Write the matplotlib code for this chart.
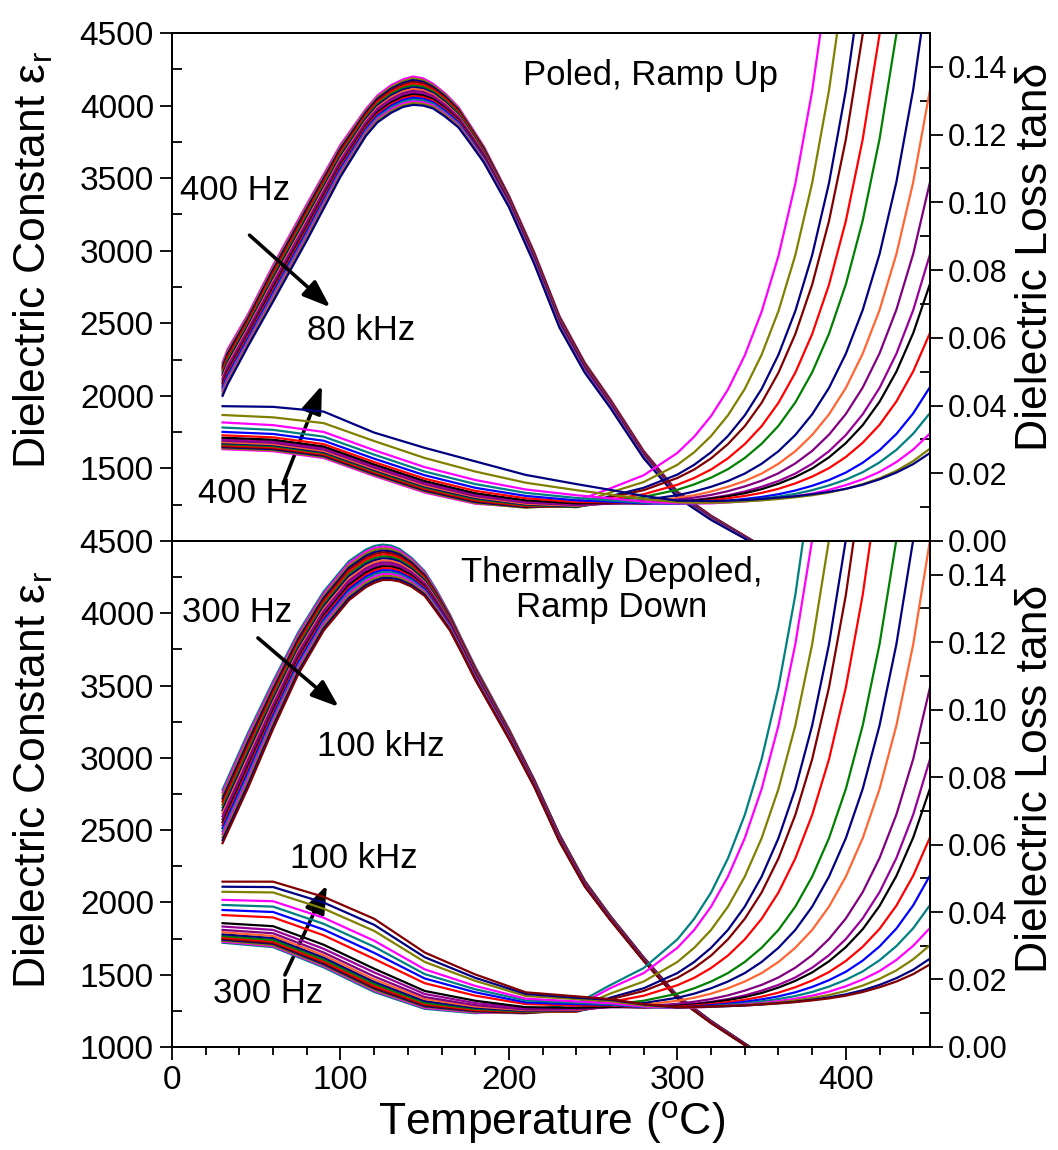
import numpy as np
import matplotlib
matplotlib.use('Agg')
import matplotlib.pyplot as plt
from matplotlib.ticker import MultipleLocator, FixedLocator, FormatStrFormatter

plt.rcParams['font.family'] = ['Liberation Sans', 'DejaVu Sans']
plt.rcParams['mathtext.fontset'] = 'custom'
plt.rcParams['mathtext.rm'] = 'Liberation Sans'
plt.rcParams['mathtext.it'] = 'Liberation Sans:italic'

# ---------------- top panel: poled, ramp up (400 Hz ... 80 kHz) ----------------
colors_up = ['#FF00FF', '#808000', '#000080', '#800000', '#FF0000', '#008000', '#000080',
             '#FF6633', '#800080', '#990099', '#000000', '#FF0000', '#0000FF', '#008080',
             '#FF00FF', '#808000', '#000080']

# dielectric constant, one row per temperature, columns = 400 Hz ... 80 kHz
temp_eps_up = [30, 33, 45, 60, 80, 100, 115, 122, 130, 137, 143, 149, 155, 162, 170, 177, 185,
               200, 215, 230, 245, 260, 280, 300, 320, 345]
eps_up_rows = [
    [2230, 2216, 2201, 2187, 2172, 2158, 2144, 2129, 2115, 2101, 2086, 2072, 2058, 2043, 2029, 2014, 2000],
    [2320, 2305, 2290, 2275, 2260, 2245, 2230, 2215, 2200, 2185, 2170, 2155, 2140, 2125, 2110, 2095, 2080],
    [2560, 2546, 2532, 2519, 2505, 2491, 2478, 2464, 2450, 2436, 2422, 2409, 2395, 2381, 2368, 2354, 2340],
    [2900, 2884, 2869, 2853, 2838, 2822, 2806, 2791, 2775, 2759, 2744, 2728, 2712, 2697, 2681, 2666, 2650],
    [3320, 3304, 3289, 3273, 3258, 3242, 3226, 3211, 3195, 3179, 3164, 3148, 3132, 3117, 3101, 3086, 3070],
    [3730, 3716, 3702, 3689, 3675, 3661, 3648, 3634, 3620, 3606, 3592, 3579, 3565, 3551, 3538, 3524, 3510],
    [3975, 3963, 3952, 3940, 3929, 3917, 3906, 3894, 3882, 3871, 3859, 3848, 3836, 3825, 3813, 3802, 3790],
    [4070, 4058, 4047, 4035, 4024, 4012, 4001, 3989, 3978, 3966, 3954, 3943, 3931, 3920, 3908, 3897, 3885],
    [4140, 4128, 4116, 4104, 4092, 4081, 4069, 4057, 4045, 4033, 4021, 4009, 3998, 3986, 3974, 3962, 3950],
    [4180, 4168, 4156, 4144, 4132, 4121, 4109, 4097, 4085, 4073, 4061, 4049, 4038, 4026, 4014, 4002, 3990],
    [4200, 4188, 4176, 4163, 4151, 4139, 4127, 4115, 4102, 4090, 4078, 4066, 4054, 4042, 4029, 4017, 4005],
    [4188, 4176, 4164, 4153, 4141, 4129, 4117, 4106, 4094, 4082, 4070, 4059, 4047, 4035, 4023, 4012, 4000],
    [4150, 4139, 4129, 4118, 4107, 4097, 4086, 4076, 4065, 4054, 4044, 4033, 4022, 4012, 4001, 3991, 3980],
    [4085, 4075, 4065, 4055, 4045, 4035, 4025, 4015, 4005, 3995, 3985, 3975, 3965, 3955, 3945, 3935, 3925],
    [3990, 3981, 3972, 3964, 3955, 3946, 3937, 3929, 3920, 3911, 3902, 3894, 3885, 3876, 3867, 3859, 3850],
    [3865, 3857, 3849, 3842, 3834, 3826, 3818, 3811, 3803, 3795, 3787, 3779, 3771, 3764, 3756, 3748, 3740],
    [3720, 3713, 3706, 3699, 3692, 3686, 3679, 3672, 3665, 3658, 3651, 3644, 3637, 3631, 3624, 3617, 3610],
    [3380, 3375, 3370, 3365, 3360, 3355, 3350, 3345, 3340, 3335, 3330, 3325, 3320, 3315, 3310, 3305, 3300],
    [2990, 2985, 2980, 2975, 2970, 2965, 2960, 2955, 2950, 2945, 2940, 2935, 2930, 2925, 2920, 2915, 2910],
    [2550, 2545, 2540, 2535, 2530, 2525, 2520, 2515, 2510, 2505, 2500, 2495, 2490, 2485, 2480, 2475, 2470],
    [2230, 2226, 2221, 2217, 2212, 2208, 2204, 2199, 2195, 2191, 2186, 2182, 2178, 2173, 2169, 2164, 2160],
    [1980, 1976, 1972, 1969, 1965, 1961, 1958, 1954, 1950, 1946, 1942, 1939, 1935, 1931, 1928, 1924, 1920],
    [1620, 1617, 1614, 1611, 1608, 1604, 1601, 1598, 1595, 1592, 1589, 1586, 1582, 1579, 1576, 1573, 1570],
    [1340, 1338, 1335, 1332, 1330, 1328, 1325, 1322, 1320, 1318, 1315, 1312, 1310, 1308, 1305, 1302, 1300],
    [1175, 1173, 1171, 1169, 1168, 1166, 1164, 1162, 1160, 1158, 1156, 1154, 1152, 1151, 1149, 1147, 1145],
    [1000, 999, 998, 997, 996, 995, 994, 993, 992, 992, 991, 990, 989, 988, 987, 986, 985],
]

temp_loss = [30, 60, 90, 120, 150, 180, 210, 240, 260, 280, 300, 310, 320, 330, 340,
             350, 360, 370, 380, 390, 400, 410, 420, 430, 440, 450]
# loss tangent, one list per frequency (400 Hz first)
loss_up = [
    [0.0271, 0.0265, 0.0245, 0.0192, 0.0143, 0.0110, 0.0100, 0.0118, 0.0155, 0.0194, 0.0260, 0.0308, 0.0369, 0.0447, 0.0548, 0.0677, 0.0842, 0.1055, 0.1329, 0.1679, 0.2130, 0.25, 0.25, 0.25, 0.25, 0.25],
    [0.0274, 0.0268, 0.0248, 0.0195, 0.0146, 0.0112, 0.0098, 0.0108, 0.0143, 0.0174, 0.0225, 0.0262, 0.0310, 0.0371, 0.0449, 0.0550, 0.0679, 0.0844, 0.1057, 0.1331, 0.1681, 0.2132, 0.25, 0.25, 0.25, 0.25],
    [0.0277, 0.0271, 0.0251, 0.0198, 0.0149, 0.0115, 0.0100, 0.0104, 0.0132, 0.0157, 0.0196, 0.0225, 0.0262, 0.0310, 0.0371, 0.0449, 0.0550, 0.0679, 0.0844, 0.1057, 0.1331, 0.1681, 0.2132, 0.25, 0.25, 0.25],
    [0.0280, 0.0274, 0.0254, 0.0201, 0.0152, 0.0118, 0.0102, 0.0102, 0.0129, 0.0150, 0.0186, 0.0211, 0.0244, 0.0286, 0.0339, 0.0408, 0.0497, 0.0611, 0.0757, 0.0945, 0.1186, 0.1496, 0.1894, 0.2404, 0.25, 0.25],
    [0.0283, 0.0277, 0.0257, 0.0204, 0.0155, 0.0121, 0.0104, 0.0100, 0.0122, 0.0138, 0.0166, 0.0186, 0.0211, 0.0244, 0.0286, 0.0339, 0.0408, 0.0497, 0.0611, 0.0757, 0.0945, 0.1186, 0.1496, 0.1894, 0.2404, 0.25],
    [0.0286, 0.0280, 0.0260, 0.0207, 0.0158, 0.0124, 0.0106, 0.0100, 0.0118, 0.0130, 0.0151, 0.0167, 0.0187, 0.0212, 0.0245, 0.0287, 0.0340, 0.0409, 0.0498, 0.0612, 0.0758, 0.0946, 0.1187, 0.1497, 0.1895, 0.2405],
    [0.0289, 0.0283, 0.0263, 0.0210, 0.0161, 0.0127, 0.0108, 0.0102, 0.0113, 0.0121, 0.0135, 0.0146, 0.0160, 0.0177, 0.0199, 0.0228, 0.0265, 0.0313, 0.0374, 0.0452, 0.0553, 0.0682, 0.0847, 0.1060, 0.1334, 0.1684],
    [0.0292, 0.0286, 0.0266, 0.0213, 0.0164, 0.0130, 0.0110, 0.0104, 0.0111, 0.0116, 0.0127, 0.0135, 0.0146, 0.0160, 0.0177, 0.0199, 0.0228, 0.0265, 0.0313, 0.0374, 0.0452, 0.0553, 0.0682, 0.0847, 0.1060, 0.1334],
    [0.0296, 0.0290, 0.0270, 0.0217, 0.0168, 0.0133, 0.0113, 0.0106, 0.0110, 0.0114, 0.0122, 0.0128, 0.0136, 0.0147, 0.0161, 0.0178, 0.0200, 0.0229, 0.0266, 0.0314, 0.0375, 0.0453, 0.0554, 0.0683, 0.0848, 0.1061],
    [0.0300, 0.0294, 0.0274, 0.0221, 0.0172, 0.0137, 0.0116, 0.0108, 0.0111, 0.0111, 0.0116, 0.0121, 0.0127, 0.0135, 0.0146, 0.0160, 0.0177, 0.0199, 0.0228, 0.0265, 0.0313, 0.0374, 0.0452, 0.0553, 0.0682, 0.0847],
    [0.0305, 0.0299, 0.0279, 0.0226, 0.0177, 0.0141, 0.0120, 0.0111, 0.0112, 0.0111, 0.0115, 0.0119, 0.0125, 0.0132, 0.0141, 0.0153, 0.0169, 0.0189, 0.0214, 0.0247, 0.0289, 0.0342, 0.0411, 0.0500, 0.0614, 0.0760],
    [0.0312, 0.0306, 0.0286, 0.0233, 0.0184, 0.0148, 0.0126, 0.0115, 0.0114, 0.0111, 0.0112, 0.0116, 0.0120, 0.0126, 0.0133, 0.0142, 0.0154, 0.0170, 0.0190, 0.0215, 0.0248, 0.0290, 0.0343, 0.0412, 0.0501, 0.0615],
    [0.0322, 0.0316, 0.0296, 0.0243, 0.0194, 0.0157, 0.0133, 0.0120, 0.0116, 0.0111, 0.0110, 0.0112, 0.0115, 0.0119, 0.0124, 0.0130, 0.0138, 0.0149, 0.0163, 0.0180, 0.0202, 0.0231, 0.0268, 0.0316, 0.0377, 0.0455],
    [0.0335, 0.0328, 0.0308, 0.0255, 0.0205, 0.0168, 0.0142, 0.0127, 0.0120, 0.0113, 0.0111, 0.0111, 0.0113, 0.0116, 0.0120, 0.0125, 0.0131, 0.0139, 0.0150, 0.0164, 0.0181, 0.0203, 0.0232, 0.0269, 0.0317, 0.0378],
    [0.0350, 0.0342, 0.0322, 0.0268, 0.0218, 0.0180, 0.0152, 0.0135, 0.0126, 0.0116, 0.0111, 0.0111, 0.0111, 0.0114, 0.0117, 0.0121, 0.0126, 0.0132, 0.0140, 0.0151, 0.0165, 0.0182, 0.0204, 0.0233, 0.0270, 0.0318],
    [0.0372, 0.0365, 0.0348, 0.0295, 0.0245, 0.0205, 0.0172, 0.0150, 0.0137, 0.0124, 0.0114, 0.0113, 0.0113, 0.0114, 0.0117, 0.0120, 0.0124, 0.0129, 0.0135, 0.0143, 0.0154, 0.0168, 0.0185, 0.0207, 0.0236, 0.0273],
    [0.0398, 0.0396, 0.0382, 0.0320, 0.0275, 0.0235, 0.0195, 0.0168, 0.0151, 0.0133, 0.0119, 0.0119, 0.0118, 0.0119, 0.0121, 0.0124, 0.0128, 0.0132, 0.0138, 0.0145, 0.0154, 0.0166, 0.0182, 0.0202, 0.0227, 0.0260],
]

# ---------------- bottom panel: depoled, ramp down (300 Hz ... 100 kHz) ----------------
colors_down = ['#008080', '#FF00FF', '#808000', '#000080', '#800000', '#FF0000', '#008000',
               '#000080', '#FF6633', '#800080', '#990099', '#000000', '#FF0000', '#0000FF',
               '#008080', '#FF00FF', '#808000', '#000080', '#800000']

temp_eps_down = [30, 45, 60, 75, 90, 105, 115, 120, 125, 130, 135, 142, 150, 157, 165, 172, 180,
                 200, 215, 230, 245, 260, 280, 300, 320, 345]
eps_down_rows = [
    [2780, 2759, 2739, 2718, 2698, 2677, 2657, 2636, 2616, 2595, 2574, 2554, 2533, 2513, 2492, 2472, 2451, 2431, 2410],
    [3170, 3149, 3128, 3107, 3086, 3064, 3043, 3022, 3001, 2980, 2959, 2938, 2917, 2896, 2874, 2853, 2832, 2811, 2790],
    [3530, 3512, 3493, 3475, 3457, 3438, 3420, 3402, 3383, 3365, 3347, 3328, 3310, 3292, 3273, 3255, 3237, 3218, 3200],
    [3870, 3854, 3838, 3822, 3806, 3789, 3773, 3757, 3741, 3725, 3709, 3693, 3677, 3661, 3644, 3628, 3612, 3596, 3580],
    [4150, 4135, 4120, 4105, 4090, 4075, 4060, 4045, 4030, 4015, 4000, 3985, 3970, 3955, 3940, 3925, 3910, 3895, 3880],
    [4360, 4345, 4330, 4315, 4300, 4285, 4270, 4255, 4240, 4225, 4210, 4195, 4180, 4165, 4150, 4135, 4120, 4105, 4090],
    [4440, 4426, 4411, 4397, 4382, 4368, 4353, 4339, 4324, 4310, 4296, 4281, 4267, 4252, 4238, 4223, 4209, 4194, 4180],
    [4465, 4451, 4437, 4422, 4408, 4394, 4380, 4366, 4352, 4337, 4323, 4309, 4295, 4281, 4267, 4252, 4238, 4224, 4210],
    [4475, 4461, 4448, 4434, 4421, 4407, 4393, 4380, 4366, 4352, 4339, 4325, 4312, 4298, 4284, 4271, 4257, 4244, 4230],
    [4468, 4455, 4442, 4428, 4415, 4402, 4389, 4376, 4362, 4349, 4336, 4323, 4310, 4296, 4283, 4270, 4257, 4243, 4230],
    [4445, 4432, 4420, 4408, 4395, 4382, 4370, 4358, 4345, 4332, 4320, 4308, 4295, 4282, 4270, 4258, 4245, 4232, 4220],
    [4385, 4374, 4363, 4352, 4341, 4330, 4318, 4307, 4296, 4285, 4274, 4263, 4252, 4241, 4230, 4218, 4207, 4196, 4185],
    [4290, 4281, 4271, 4262, 4252, 4243, 4233, 4224, 4214, 4205, 4196, 4186, 4177, 4167, 4158, 4148, 4139, 4129, 4120],
    [4160, 4152, 4143, 4135, 4127, 4118, 4110, 4102, 4093, 4085, 4077, 4068, 4060, 4052, 4043, 4035, 4027, 4018, 4010],
    [3990, 3984, 3978, 3972, 3966, 3959, 3953, 3947, 3941, 3935, 3929, 3923, 3917, 3911, 3904, 3898, 3892, 3886, 3880],
    [3820, 3815, 3809, 3804, 3799, 3794, 3788, 3783, 3778, 3772, 3767, 3762, 3757, 3751, 3746, 3741, 3736, 3730, 3725],
    [3630, 3625, 3620, 3615, 3610, 3605, 3600, 3595, 3590, 3585, 3580, 3575, 3570, 3565, 3560, 3555, 3550, 3545, 3540],
    [3200, 3196, 3192, 3188, 3184, 3181, 3177, 3173, 3169, 3165, 3161, 3157, 3153, 3149, 3146, 3142, 3138, 3134, 3130],
    [2850, 2847, 2844, 2842, 2839, 2836, 2833, 2831, 2828, 2825, 2822, 2819, 2817, 2814, 2811, 2808, 2806, 2803, 2800],
    [2470, 2467, 2464, 2462, 2459, 2456, 2453, 2451, 2448, 2445, 2442, 2439, 2437, 2434, 2431, 2428, 2426, 2423, 2420],
    [2150, 2148, 2146, 2143, 2141, 2139, 2137, 2134, 2132, 2130, 2128, 2126, 2123, 2121, 2119, 2117, 2114, 2112, 2110],
    [1910, 1908, 1907, 1905, 1903, 1902, 1900, 1898, 1897, 1895, 1893, 1892, 1890, 1888, 1887, 1885, 1883, 1882, 1880],
    [1620, 1619, 1617, 1616, 1614, 1613, 1612, 1610, 1609, 1608, 1606, 1605, 1603, 1602, 1601, 1599, 1598, 1596, 1595],
    [1355, 1354, 1353, 1352, 1351, 1349, 1348, 1347, 1346, 1345, 1344, 1343, 1342, 1341, 1339, 1338, 1337, 1336, 1335],
    [1180, 1179, 1178, 1178, 1177, 1176, 1175, 1174, 1173, 1173, 1172, 1171, 1170, 1169, 1168, 1168, 1167, 1166, 1165],
    [985, 984, 984, 983, 983, 982, 982, 981, 981, 980, 979, 979, 978, 978, 977, 977, 976, 976, 975],
]

loss_down = [
    [0.0309, 0.0296, 0.0236, 0.0163, 0.0113, 0.0100, 0.0108, 0.0128, 0.0183, 0.0234, 0.0319, 0.0380, 0.0458, 0.0559, 0.0688, 0.0853, 0.1066, 0.1340, 0.1690, 0.2141, 0.25, 0.25, 0.25, 0.25, 0.25, 0.25],
    [0.0312, 0.0299, 0.0240, 0.0167, 0.0116, 0.0102, 0.0100, 0.0120, 0.0174, 0.0219, 0.0294, 0.0347, 0.0416, 0.0505, 0.0619, 0.0765, 0.0953, 0.1194, 0.1504, 0.1902, 0.2412, 0.25, 0.25, 0.25, 0.25, 0.25],
    [0.0315, 0.0302, 0.0243, 0.0170, 0.0119, 0.0104, 0.0100, 0.0115, 0.0158, 0.0194, 0.0252, 0.0294, 0.0347, 0.0416, 0.0505, 0.0619, 0.0765, 0.0953, 0.1194, 0.1504, 0.1902, 0.2412, 0.25, 0.25, 0.25, 0.25],
    [0.0318, 0.0306, 0.0246, 0.0174, 0.0121, 0.0106, 0.0101, 0.0110, 0.0146, 0.0174, 0.0219, 0.0252, 0.0294, 0.0347, 0.0416, 0.0505, 0.0619, 0.0765, 0.0953, 0.1194, 0.1504, 0.1902, 0.2412, 0.25, 0.25, 0.25],
    [0.0321, 0.0309, 0.0250, 0.0177, 0.0124, 0.0108, 0.0102, 0.0106, 0.0141, 0.0166, 0.0205, 0.0234, 0.0271, 0.0319, 0.0380, 0.0458, 0.0559, 0.0688, 0.0853, 0.1066, 0.1340, 0.1690, 0.2141, 0.25, 0.25, 0.25],
    [0.0325, 0.0313, 0.0254, 0.0182, 0.0128, 0.0110, 0.0104, 0.0104, 0.0133, 0.0152, 0.0183, 0.0205, 0.0234, 0.0271, 0.0319, 0.0380, 0.0458, 0.0559, 0.0688, 0.0853, 0.1066, 0.1340, 0.1690, 0.2141, 0.25, 0.25],
    [0.0329, 0.0317, 0.0259, 0.0187, 0.0131, 0.0113, 0.0105, 0.0106, 0.0125, 0.0137, 0.0158, 0.0174, 0.0194, 0.0219, 0.0252, 0.0294, 0.0347, 0.0416, 0.0505, 0.0619, 0.0765, 0.0953, 0.1194, 0.1504, 0.1902, 0.2412],
    [0.0334, 0.0323, 0.0265, 0.0193, 0.0136, 0.0116, 0.0107, 0.0107, 0.0122, 0.0130, 0.0146, 0.0158, 0.0174, 0.0194, 0.0219, 0.0252, 0.0294, 0.0347, 0.0416, 0.0505, 0.0619, 0.0765, 0.0953, 0.1194, 0.1504, 0.1902],
    [0.0340, 0.0329, 0.0272, 0.0200, 0.0142, 0.0120, 0.0109, 0.0109, 0.0120, 0.0125, 0.0137, 0.0146, 0.0158, 0.0174, 0.0194, 0.0219, 0.0252, 0.0294, 0.0347, 0.0416, 0.0505, 0.0619, 0.0765, 0.0953, 0.1194, 0.1504],
    [0.0347, 0.0337, 0.0280, 0.0209, 0.0148, 0.0124, 0.0111, 0.0111, 0.0118, 0.0120, 0.0128, 0.0134, 0.0142, 0.0153, 0.0167, 0.0184, 0.0206, 0.0235, 0.0272, 0.0320, 0.0381, 0.0459, 0.0560, 0.0689, 0.0854, 0.1067],
    [0.0357, 0.0347, 0.0291, 0.0221, 0.0157, 0.0130, 0.0115, 0.0113, 0.0118, 0.0118, 0.0123, 0.0128, 0.0134, 0.0142, 0.0153, 0.0167, 0.0184, 0.0206, 0.0235, 0.0272, 0.0320, 0.0381, 0.0459, 0.0560, 0.0689, 0.0854],
    [0.0367, 0.0358, 0.0303, 0.0232, 0.0166, 0.0137, 0.0118, 0.0116, 0.0119, 0.0117, 0.0122, 0.0126, 0.0132, 0.0139, 0.0148, 0.0160, 0.0176, 0.0196, 0.0221, 0.0254, 0.0296, 0.0349, 0.0418, 0.0507, 0.0621, 0.0767],
    [0.0391, 0.0384, 0.0331, 0.0261, 0.0189, 0.0152, 0.0127, 0.0123, 0.0123, 0.0117, 0.0119, 0.0123, 0.0127, 0.0133, 0.0140, 0.0149, 0.0161, 0.0177, 0.0197, 0.0222, 0.0255, 0.0297, 0.0350, 0.0419, 0.0508, 0.0622],
    [0.0406, 0.0400, 0.0348, 0.0279, 0.0203, 0.0162, 0.0132, 0.0127, 0.0125, 0.0118, 0.0117, 0.0120, 0.0124, 0.0128, 0.0134, 0.0141, 0.0150, 0.0162, 0.0178, 0.0198, 0.0223, 0.0256, 0.0298, 0.0351, 0.0420, 0.0509],
    [0.0421, 0.0416, 0.0365, 0.0297, 0.0216, 0.0171, 0.0138, 0.0131, 0.0127, 0.0119, 0.0116, 0.0118, 0.0121, 0.0125, 0.0129, 0.0135, 0.0142, 0.0151, 0.0163, 0.0179, 0.0199, 0.0224, 0.0257, 0.0299, 0.0352, 0.0421],
    [0.0436, 0.0432, 0.0383, 0.0315, 0.0230, 0.0181, 0.0143, 0.0135, 0.0130, 0.0120, 0.0116, 0.0117, 0.0119, 0.0122, 0.0126, 0.0130, 0.0136, 0.0143, 0.0152, 0.0164, 0.0180, 0.0200, 0.0225, 0.0258, 0.0300, 0.0353],
    [0.0460, 0.0458, 0.0410, 0.0344, 0.0252, 0.0196, 0.0151, 0.0142, 0.0136, 0.0123, 0.0117, 0.0118, 0.0119, 0.0121, 0.0124, 0.0128, 0.0132, 0.0138, 0.0145, 0.0154, 0.0166, 0.0182, 0.0202, 0.0227, 0.0260, 0.0302],
    [0.0475, 0.0474, 0.0428, 0.0362, 0.0266, 0.0205, 0.0157, 0.0146, 0.0140, 0.0126, 0.0117, 0.0119, 0.0120, 0.0121, 0.0123, 0.0126, 0.0130, 0.0134, 0.0140, 0.0147, 0.0156, 0.0168, 0.0184, 0.0204, 0.0229, 0.0262],
    [0.0490, 0.0490, 0.0445, 0.0380, 0.0280, 0.0215, 0.0162, 0.0150, 0.0142, 0.0127, 0.0118, 0.0119, 0.0120, 0.0122, 0.0123, 0.0126, 0.0129, 0.0133, 0.0138, 0.0144, 0.0152, 0.0163, 0.0177, 0.0194, 0.0216, 0.0245],
]

TICK = 24
TICK_R = 22
LABEL = 32
NOTE = 25


def style_panel(ax, axr, left_ticks, show_x):
    ax.set_xlim(0, 450)
    ax.set_ylim(1000, 4500)
    axr.set_ylim(0, 0.15)
    ax.xaxis.set_major_locator(MultipleLocator(100))
    ax.xaxis.set_minor_locator(MultipleLocator(20))
    ax.yaxis.set_major_locator(FixedLocator(left_ticks))
    ax.yaxis.set_minor_locator(MultipleLocator(250))
    axr.yaxis.set_major_locator(FixedLocator([0, 0.02, 0.04, 0.06, 0.08, 0.10, 0.12, 0.14]))
    axr.yaxis.set_minor_locator(MultipleLocator(0.01))
    axr.yaxis.set_major_formatter(FormatStrFormatter('%.2f'))
    ax.tick_params(axis='x', which='both', direction='out', top=False, width=1.3,
                   labelsize=TICK, labelbottom=show_x, pad=4)
    ax.tick_params(axis='x', which='major', length=9)
    ax.tick_params(axis='x', which='minor', length=6)
    for a, size in ((ax, TICK), (axr, TICK_R)):
        a.tick_params(axis='y', which='major', direction='out', length=9, width=1.3,
                      labelsize=size, pad=4)
        a.tick_params(axis='y', which='minor', direction='in', length=7, width=1.3)
        for s in a.spines.values():
            s.set_linewidth(1.4)


def arrow(ax, start, end):
    ax.annotate('', xy=end, xytext=start,
                arrowprops=dict(arrowstyle='-|>,head_length=0.6,head_width=0.22', color='k',
                                lw=2.6, mutation_scale=28, shrinkA=0, shrinkB=0))


fig = plt.figure(figsize=(10.58, 11.5), dpi=100)
ax1 = fig.add_axes([0.1626, 0.5296, 0.7165, 0.4417])
ax2 = fig.add_axes([0.1626, 0.0896, 0.7165, 0.4400])
ax1r = ax1.twinx()
ax2r = ax2.twinx()

# top panel curves
eps_up = np.array(eps_up_rows).T
for k, c in enumerate(colors_up):
    ax1.plot(temp_eps_up, eps_up[k], color=c, lw=1.6)
for k, c in enumerate(colors_up):
    ax1r.plot(temp_loss, loss_up[k], color=c, lw=1.6)

# bottom panel curves
eps_down = np.array(eps_down_rows).T
for k, c in enumerate(colors_down):
    ax2.plot(temp_eps_down, eps_down[k], color=c, lw=1.6)
for k, c in enumerate(colors_down):
    ax2r.plot(temp_loss, loss_down[k], color=c, lw=1.6)

style_panel(ax1, ax1r, [1500, 2000, 2500, 3000, 3500, 4000, 4500], False)
style_panel(ax2, ax2r, [1000, 1500, 2000, 2500, 3000, 3500, 4000, 4500], True)

for ax, axr, yl, yr in ((ax1, ax1r, 0.553, 0.559), (ax2, ax2r, 0.528, 0.53)):
    ax.set_ylabel('Dielectric Constant ε$_\\mathrm{r}$', fontsize=LABEL)
    ax.yaxis.set_label_coords(-0.154, yl)
    axr.set_ylabel('Dielectric Loss tanδ', fontsize=LABEL)
    axr.yaxis.set_label_coords(1.112, yr)

ax2.set_xlabel('Temperature ($^\\mathrm{o}$C)', fontsize=LABEL, labelpad=2)

# annotations, top panel
ax1.text(37.5, 3417, '400 Hz', fontsize=NOTE, ha='center', va='center')
arrow(ax1, (46, 3107), (94, 2610))
ax1.text(112, 2452, '80 kHz', fontsize=NOTE, ha='center', va='center')
arrow(ax1, (66, 1396), (89, 2072))
ax1.text(48, 1327, '400 Hz', fontsize=NOTE, ha='center', va='center')
ax1.text(284, 4210, 'Poled, Ramp Up', fontsize=NOTE, ha='center', va='center')

# annotations, bottom panel
ax2.text(38.5, 4002, '300 Hz', fontsize=NOTE, ha='center', va='center')
arrow(ax2, (51, 3829), (99, 3352))
ax2.text(124, 3077, '100 kHz', fontsize=NOTE, ha='center', va='center')
ax2.text(108, 2307, '100 kHz', fontsize=NOTE, ha='center', va='center')
arrow(ax2, (67, 1498), (92, 2120))
ax2.text(57, 1373, '300 Hz', fontsize=NOTE, ha='center', va='center')
ax2.text(261, 4161, 'Thermally Depoled,\nRamp Down', fontsize=NOTE, ha='center',
         va='center', multialignment='center', linespacing=1.05)

fig.savefig('out.png', dpi=100)
